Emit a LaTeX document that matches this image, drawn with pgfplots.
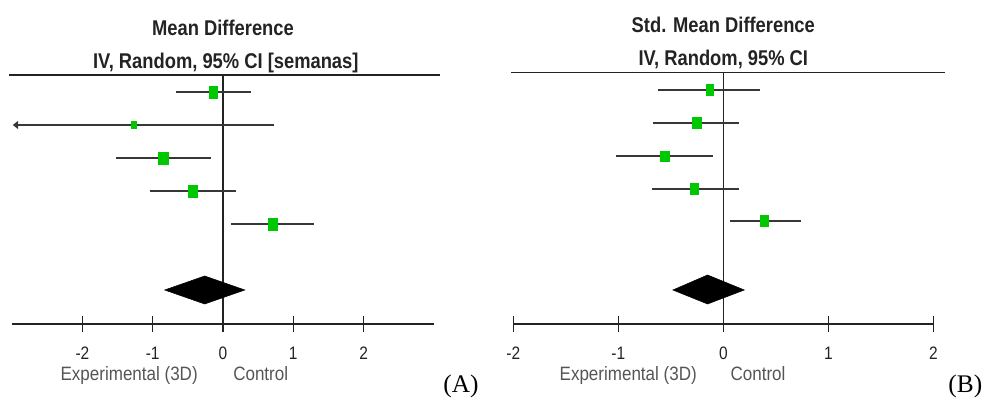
\documentclass[border=0pt]{standalone}
\usepackage{pgfplots}
\pgfplotsset{compat=1.18}
\usepackage{pgfplotstable}
\usepackage{fontspec}
\setmainfont{Liberation Sans}
\newfontfamily\titlefont[FakeStretch=0.86]{Liberation Sans}
\newfontfamily\narrowfont[FakeStretch=0.86]{Liberation Sans}
\newfontfamily\sidefont[FakeStretch=0.88]{Liberation Sans}
\newfontfamily\seriffont{Liberation Serif}
\usetikzlibrary{arrows.meta}

\definecolor{sqgreen}{RGB}{0,200,0}
\definecolor{cigray}{RGB}{55,55,55}
\definecolor{axgray}{RGB}{35,35,35}
\definecolor{labgray}{RGB}{85,85,85}

% (A) mean difference in weeks: estimate, CI, row height, marker half-height (pt), width/height ratio
\pgfplotstableread{
est    lo     hi     y    h    r
-0.14  -0.67  0.40   306  4.4  0.71
-1.27  -2.98  0.72   273  2.5  0.85
-0.85  -1.52  -0.17  240  4.6  0.81
-0.43  -1.04  0.19   207  4.5  0.72
0.71   0.12   1.30   174  4.6  0.71
}\studiesA

% (B) standardised mean difference
\pgfplotstableread{
est    lo     hi     y    h    r
-0.13  -0.62  0.35   308  4.1  0.64
-0.25  -0.67  0.15   275  4.1  0.82
-0.56  -1.02  -0.10  242  3.8  0.90
-0.28  -0.68  0.15   209  4.1  0.73
0.39   0.06   0.74   177  4.1  0.82
}\studiesB

\tikzset{
  head/.style={font=\titlefont\bfseries\fontsize{16}{16}\selectfont, text=axgray, anchor=base},
  side/.style={font=\sidefont\fontsize{14.5}{15}\selectfont, text=labgray, inner sep=0pt},
  panel/.style={font=\seriffont\fontsize{19}{19}\selectfont, inner sep=0pt, anchor=base},
}

\pgfplotsset{
  forest/.style={
    scale only axis, anchor=south west, clip=false,
    ymin=74, ymax=323,
    axis x line*=bottom, axis y line=none,
    axis line style={axgray, line width=1.4pt},
    xtick={-2,-1,0,1,2},
    xticklabels={-2,-1,0,1,2},
    tick align=center, major tick length=12pt,
    tick style={axgray, line width=1.1pt},
    xticklabel style={font=\narrowfont\fontsize{13.5}{14}\selectfont, text=axgray, anchor=base, yshift=-20.8pt},
  },
  ci/.style={draw=none, error bars/.cd, x dir=both, x explicit, error mark=none,
    error bar style={draw=cigray, line width=1.5pt}},
  squares/.style={only marks, scatter, mark=square*,
    scatter/use mapped color={draw=sqgreen, fill=sqgreen},
    visualization depends on={\thisrow{h} \as \hh},
    visualization depends on={\thisrow{r} \as \rr},
    scatter/@pre marker code/.append style={/tikz/mark size=\hh pt, /tikz/xscale=\rr}},
}

\begin{document}
\begin{tikzpicture}
\useasboundingbox (0pt,0pt) rectangle (740.25pt,298.5pt);

% ---------------- (A) ----------------
\begin{axis}[forest, at={(9.075pt,55.5pt)}, width=316.35pt, height=186.75pt, xmin=-3, xmax=3]
  \addplot[axgray, line width=1.4pt] coordinates {(-3.04,323) (3.09,323)};
  \addplot[axgray, line width=1.1pt] coordinates {(0,323) (0,74)};
  \addplot[ci] table[x=est, y=y,
      x error plus expr=\thisrow{hi}-\thisrow{est},
      x error minus expr=\thisrow{est}-\thisrow{lo}] {\studiesA};
  \addplot[cigray, line width=1.5pt, -{Triangle[length=4pt, width=6pt]}]
      coordinates {(-2.8,273) (-2.99,273)};
  \addplot[squares] table[x=est, y=y] {\studiesA};
  \addplot[fill=black, draw=black] coordinates {(-0.83,108) (-0.26,122) (0.31,108) (-0.26,94)} -- cycle;
  \node[head] at (axis cs:0,362) {Mean Difference};
  \node[head] at (axis cs:0.04,329) {IV, Random, 95\% CI [semanas]};
  \node[side, anchor=base east, xshift=-18.75pt] at (axis cs:0,17.3) {Experimental (3D)};
  \node[side, anchor=base west, xshift=7.5pt] at (axis cs:0,17.3) {Control};
\end{axis}
\node[panel] at (345.75pt,4pt) {(A)};

% ---------------- (B) ----------------
\begin{axis}[forest, at={(384.975pt,55.5pt)}, width=315pt, height=186.75pt, xmin=-2, xmax=2]
  \addplot[axgray, line width=1.4pt] coordinates {(-2.02,325.5) (2.11,325.5)};
  \addplot[axgray, line width=1.1pt] coordinates {(0,325.5) (0,74)};
  \addplot[ci] table[x=est, y=y,
      x error plus expr=\thisrow{hi}-\thisrow{est},
      x error minus expr=\thisrow{est}-\thisrow{lo}] {\studiesB};
  \addplot[squares] table[x=est, y=y] {\studiesB};
  \addplot[fill=black, draw=black] coordinates {(-0.48,108) (-0.15,123) (0.20,108) (-0.15,94)} -- cycle;
  \node[head] at (axis cs:0,365.5) {Std. Mean Difference};
  \node[head] at (axis cs:0,332) {IV, Random, 95\% CI};
  \node[side, anchor=base east, xshift=-19.7pt] at (axis cs:0,17.3) {Experimental (3D)};
  \node[side, anchor=base west, xshift=5.25pt] at (axis cs:0,17.3) {Control};
\end{axis}
\node[panel] at (724pt,4pt) {(B)};
\end{tikzpicture}
\end{document}
